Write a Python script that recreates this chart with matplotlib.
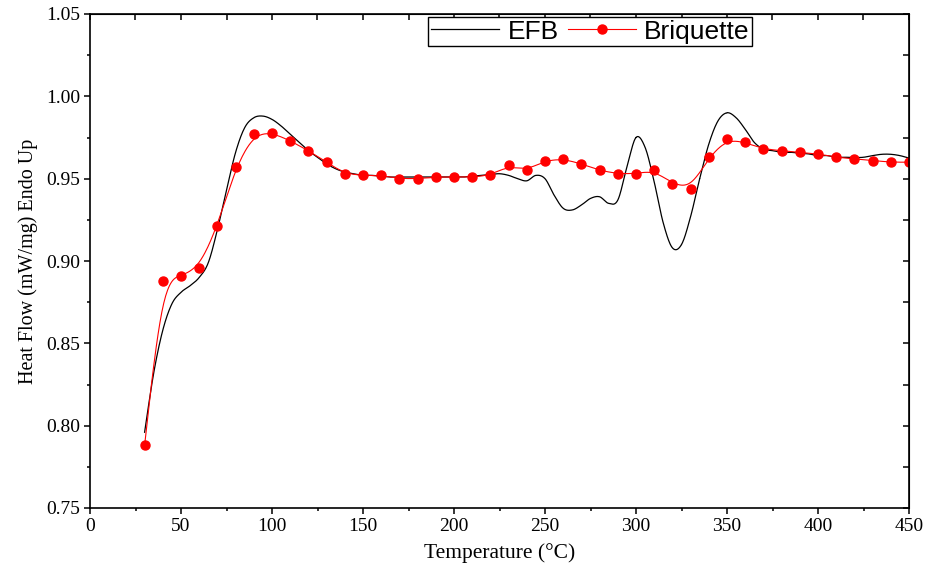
import matplotlib
matplotlib.use("Agg")
import matplotlib.pyplot as plt
import numpy as np
from matplotlib.ticker import MultipleLocator, FormatStrFormatter

# EFB curve, read every 5 C
efb_t = list(range(30, 451, 5))
efb_v = [0.796, 0.832, 0.858, 0.874, 0.881, 0.885, 0.890, 0.899, 0.919, 0.943,
         0.966, 0.981, 0.987, 0.988, 0.986, 0.982, 0.977, 0.972, 0.967, 0.963,
         0.959, 0.956, 0.954, 0.953, 0.952, 0.952, 0.9515, 0.951, 0.951, 0.951,
         0.951, 0.951, 0.951, 0.951, 0.951, 0.951, 0.9515, 0.952, 0.9525, 0.953,
         0.952, 0.950, 0.9487, 0.952, 0.950, 0.940, 0.932, 0.931, 0.934, 0.938,
         0.939, 0.935, 0.937, 0.957, 0.975, 0.969, 0.948, 0.923, 0.908, 0.910,
         0.927, 0.950, 0.971, 0.985, 0.990, 0.987, 0.980, 0.972, 0.968, 0.967,
         0.966, 0.966, 0.9655, 0.965, 0.964, 0.964, 0.963, 0.963, 0.9628, 0.963,
         0.964, 0.9648, 0.9648, 0.964, 0.9625]

# Briquette points, every 10 C
bri_t = list(range(30, 451, 10))
bri_v = [0.788, 0.888, 0.891, 0.896, 0.921, 0.957, 0.977, 0.978, 0.973, 0.967,
         0.960, 0.953, 0.952, 0.952, 0.950, 0.950, 0.951, 0.951, 0.951, 0.952,
         0.958, 0.955, 0.961, 0.962, 0.959, 0.955, 0.953, 0.953, 0.955, 0.947,
         0.944, 0.963, 0.974, 0.972, 0.968, 0.967, 0.966, 0.965, 0.963, 0.962,
         0.961, 0.960, 0.960]


def catmull(x, y, n=20):
    p = np.column_stack([x, y]).astype(float)
    p = np.vstack([p[0], p, p[-1]])
    out = []
    for i in range(1, len(p) - 2):
        p0, p1, p2, p3 = p[i - 1], p[i], p[i + 1], p[i + 2]
        t = np.linspace(0, 1, n)[:, None]
        seg = 0.5 * ((2 * p1) + (-p0 + p2) * t + (2 * p0 - 5 * p1 + 4 * p2 - p3) * t**2
                     + (-p0 + 3 * p1 - 3 * p2 + p3) * t**3)
        out.append(seg)
    out = np.vstack(out)
    return out[:, 0], out[:, 1]


def bspline(x, y, n=20):
    # uniform cubic B-spline with the points as control points (Origin style)
    p = np.column_stack([x, y]).astype(float)
    p = np.vstack([p[0], p[0], p, p[-1], p[-1]])
    t = np.linspace(0, 1, n)[:, None]
    b0 = (1 - t)**3 / 6
    b1 = (3 * t**3 - 6 * t**2 + 4) / 6
    b2 = (-3 * t**3 + 3 * t**2 + 3 * t + 1) / 6
    b3 = t**3 / 6
    out = [b0 * p[i] + b1 * p[i + 1] + b2 * p[i + 2] + b3 * p[i + 3] for i in range(len(p) - 3)]
    out = np.vstack(out)
    return out[:, 0], out[:, 1]


plt.rcParams['font.family'] = ['Liberation Serif', 'DejaVu Serif']

fig = plt.figure(figsize=(9.27, 5.66), dpi=100)
ax = fig.add_axes([90 / 927, 58 / 566, 819 / 927, 494 / 566])

ex, ey = catmull(efb_t, efb_v)
bx, by = bspline(bri_t, bri_v)
ax.plot(ex, ey, color='black', lw=0.9, label='EFB')
ax.plot(bx, by, color='red', lw=0.8)
ax.plot(bri_t, bri_v, 'o', color='red', ms=6.5, mec='red')
ax.plot([], [], color='red', lw=0.8, marker='o', ms=6.5, label='Briquette')

ax.set_xlim(0, 450)
ax.set_ylim(0.75, 1.05)
ax.xaxis.set_major_locator(MultipleLocator(50))
ax.xaxis.set_minor_locator(MultipleLocator(25))
ax.yaxis.set_major_locator(MultipleLocator(0.05))
ax.yaxis.set_minor_locator(MultipleLocator(0.025))
ax.yaxis.set_major_formatter(FormatStrFormatter('%.2f'))
ax.tick_params(which='major', direction='out', length=4, width=1.1, labelsize=14, pad=3)
ax.tick_params(which='minor', direction='out', length=2, width=1.1)
for s in ax.spines.values():
    s.set_linewidth(1.2)

top = ax.secondary_xaxis('top')
top.xaxis.set_major_locator(MultipleLocator(25))
top.tick_params(direction='in', length=4, width=1.1, labeltop=False)
right = ax.secondary_yaxis('right')
right.yaxis.set_major_locator(MultipleLocator(0.025))
right.tick_params(direction='in', length=4, width=1.1, labelright=False)

ax.set_xlabel('Temperature (°C)', fontsize=15.5, labelpad=6)
ax.set_ylabel('Heat Flow (mW/mg) Endo Up', fontsize=14.5, labelpad=6)

leg = ax.legend(loc='upper left', bbox_to_anchor=(0.413, 0.994), ncol=2,
                prop={'family': 'Liberation Sans', 'size': 19}, frameon=True,
                fancybox=False, framealpha=1, edgecolor='black', borderaxespad=0,
                handlelength=2.6, handletextpad=0.3, columnspacing=0.35, borderpad=0.1)
leg.get_frame().set_linewidth(1.0)

fig.savefig('out.png', dpi=100)
